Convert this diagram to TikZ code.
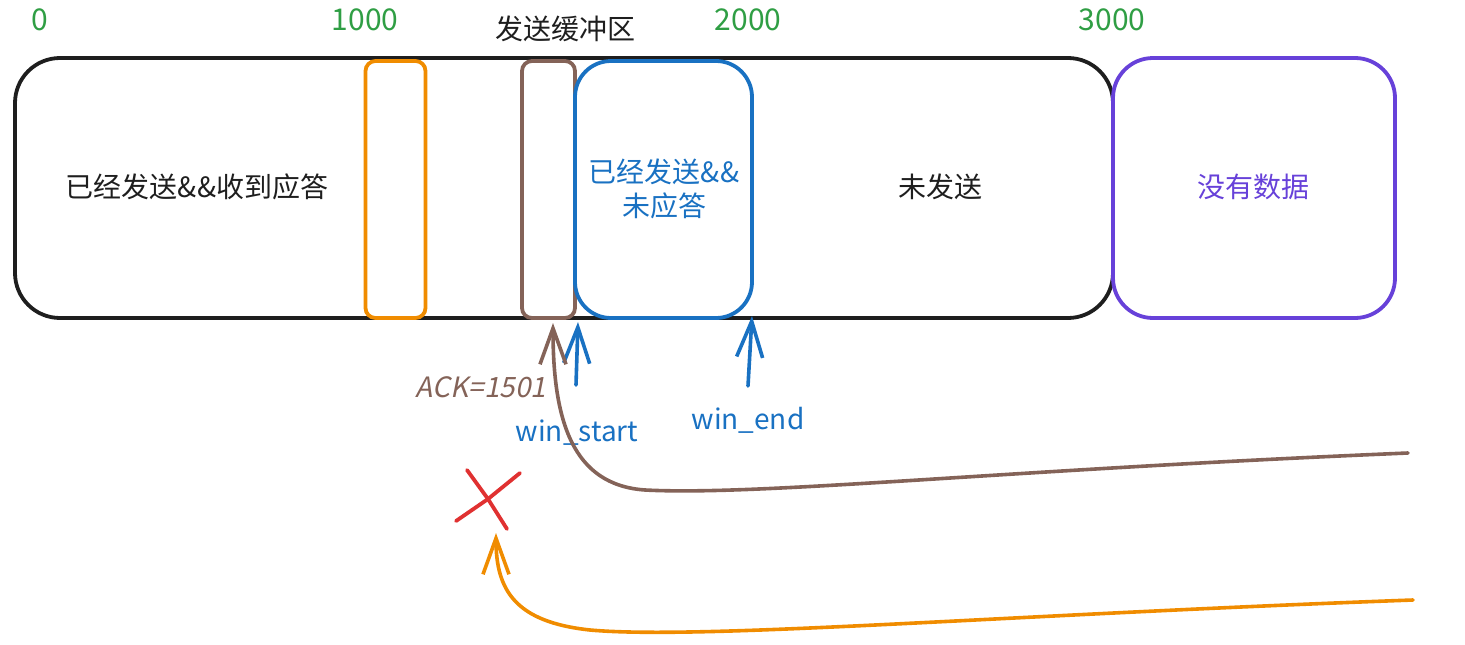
\documentclass[tikz,border=0pt]{standalone}
\usepackage{fontspec}
\newfontfamily\cjk{Noto Sans CJK SC}
\newfontfamily\cjkit[FakeSlant=0.2]{Noto Sans CJK SC}
\usetikzlibrary{arrows.meta}
\definecolor{cgreen}{HTML}{2F9E44}
\definecolor{cblue}{HTML}{1971C2}
\definecolor{cbrown}{HTML}{846358}
\definecolor{corange}{HTML}{F08C00}
\definecolor{cpurple}{HTML}{6741D9}
\definecolor{cred}{HTML}{E03131}
\definecolor{cblack}{HTML}{1E1E1E}
\tikzset{
  box/.style={draw, line width=3.8pt, inner sep=0pt, outer sep=0pt},
  txt/.style={font=\cjk\fontsize{28}{34}\selectfont, inner sep=0pt, align=center},
  num/.style={font=\cjk\fontsize{30}{32}\selectfont, text=cgreen, inner sep=0pt},
  lbl/.style={font=\cjk\fontsize{28}{32}\selectfont, inner sep=0pt},
  arr/.style={line width=3.6pt, line cap=round, -{Straight Barb[length=36pt,width=26pt,line width=3.6pt]}},
}
\begin{document}
\begin{tikzpicture}[x=1pt,y=-1pt]
\useasboundingbox (0,0) rectangle (1465,645);
% main buffer
\node[box, draw=cblack, rounded corners=45pt, minimum width=1098pt, minimum height=260pt] (buf) at (564,188) {};
\node[box, draw=cpurple, rounded corners=40pt, minimum width=282pt, minimum height=260pt] (nodata) at (1254,188) {};
\node[box, draw=corange, rounded corners=10pt, minimum width=60pt, minimum height=257pt] (orect) at (395.5,189.5) {};
\node[box, draw=cbrown, rounded corners=10pt, minimum width=53pt, minimum height=257pt] (brect) at (548.5,189.5) {};
\node[box, draw=cblue, rounded corners=36pt, minimum width=177pt, minimum height=257pt] (wrect) at (663.5,189.5) {};
% texts
\node[txt, text=cblack] (t1) at (197,187) {已经发送\&\&收到应答};
\node[txt, text=cblue] (t2) at (664,189) {已经发送\&\&\\未应答};
\node[txt, text=cblack] (t3) at (940,187) {未发送};
\node[txt, text=cpurple] (t4) at (1253,187) {没有数据};
\node[txt, text=cblack] (title) at (565,29) {发送缓冲区};
\node[num] (n0) at (40,20) {0};
\node[num] (n1) at (365,20) {1000};
\node[num] (n2) at (748,20) {2000};
\node[num] (n3) at (1112,20) {3000};
% window pointers
\coordinate (ws0) at (576,385);
\coordinate (ws1) at (578,322);
\coordinate (we0) at (748,386);
\coordinate (we1) at (752,316);
\draw[arr, cblue] (ws0) -- (ws1);
\draw[arr, cblue] (we0) -- (we1);
\node[lbl, text=cblue] (wsl) at (577,433) {win\_start};
\node[lbl, text=cblue] (wel) at (748,420) {win\_end};
\node[lbl, text=cbrown, font=\cjkit\fontsize{28}{32}\selectfont] (ack) at (481,387) {ACK=1501};
% ACK curve
\coordinate (a0) at (1408,453);
\coordinate (a1) at (553,323);
\draw[arr, cbrown] (a0) .. controls (1000,470) and (760,496) .. (645,490) .. controls (572,485) and (553,420) .. (a1);
% lost segment
\coordinate (o0) at (1413,600);
\coordinate (o1) at (496,533);
\draw[arr, corange] (o0) .. controls (1000,615) and (700,640) .. (590,630) .. controls (515,622) and (496,590) .. (o1);
\node[inner sep=0pt, minimum size=1pt] (xc) at (488,499) {};
\draw[cred, line width=3.8pt, line cap=round] (467,470) -- (xc.center) -- (507,529);
\draw[cred, line width=3.8pt, line cap=round] (520,473) -- (xc.center) -- (456,521);
\end{tikzpicture}
\end{document}
